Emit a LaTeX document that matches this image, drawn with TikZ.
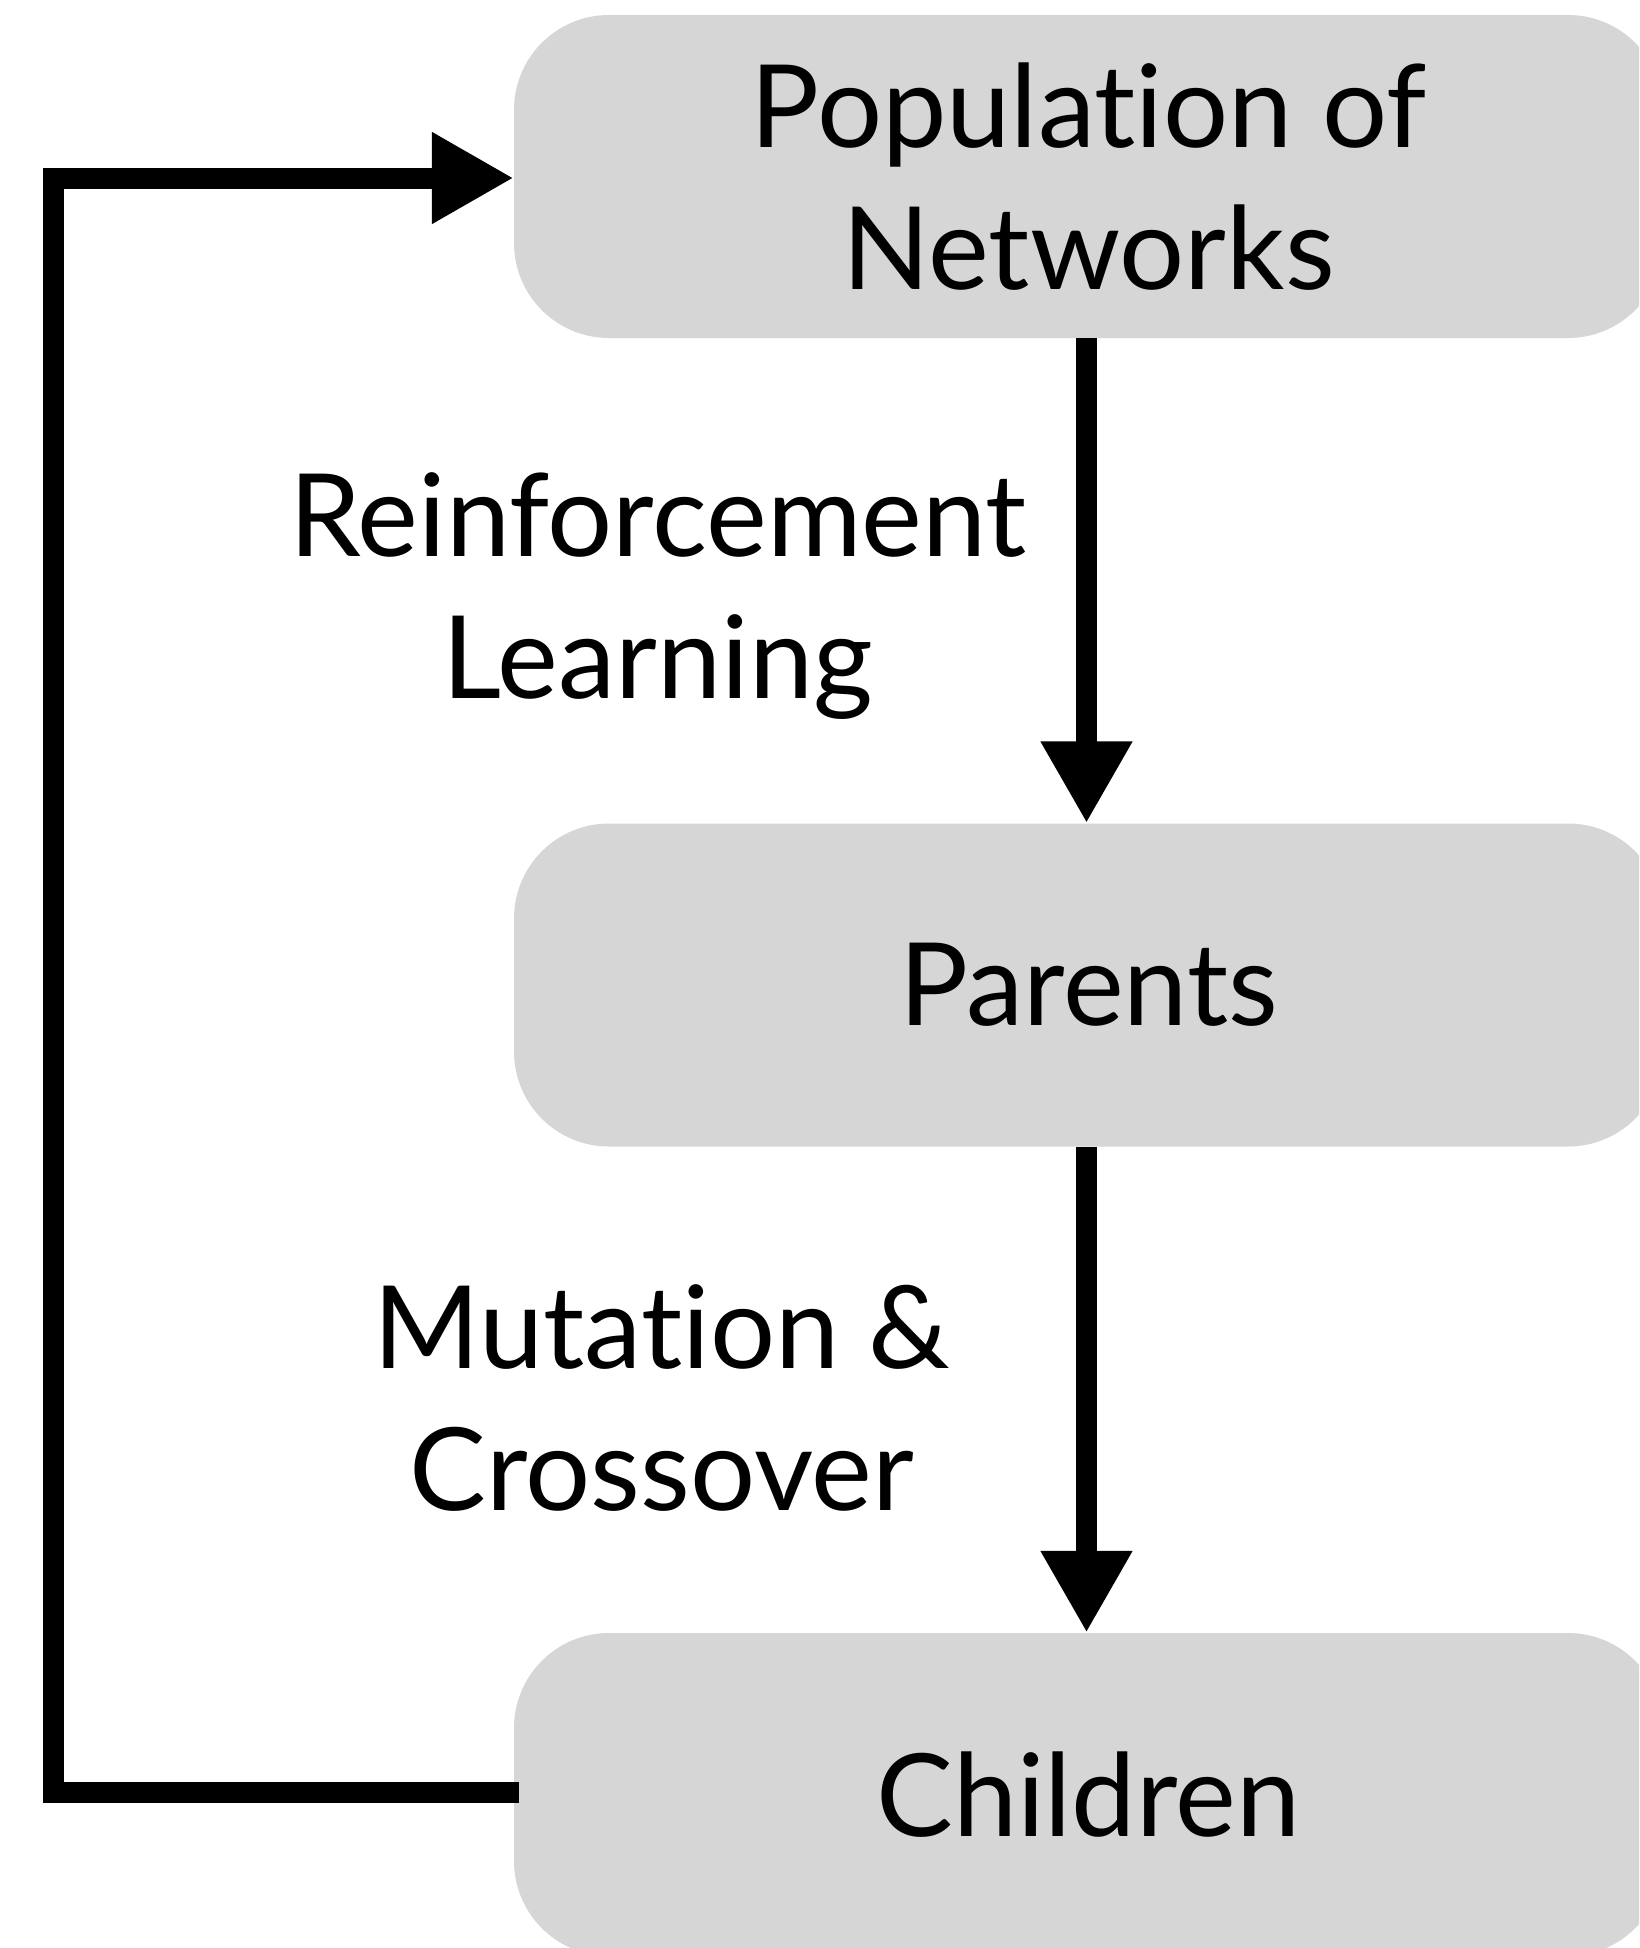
\documentclass[tikz,border=0pt]{standalone}
\usepackage{fontspec}
\setmainfont{Lato}[Ligatures=NoCommon]
\usetikzlibrary{arrows.meta}
\definecolor{boxgray}{RGB}{214,214,214}
\begin{document}
\begin{tikzpicture}[x=1pt,y=-1pt,
  box/.style={fill=boxgray, rounded corners=95pt, minimum width=1149pt, minimum height=323pt, inner sep=0pt, align=center, font=\fontsize{115}{142}\selectfont},
  conn/.style={line width=21pt, -{Triangle[length=82pt,width=86pt]}},
  lbl/.style={font=\fontsize{115}{142}\selectfont, align=center, anchor=base, inner sep=0pt}]
\clip (0,0) rectangle (1639,1948);
\fill[white] (0,0) rectangle (1639,1948);
\node[box] (pop) at (1088.5,176.5) {Population of\\Networks};
\node[box] (par) at (1088.5,985) {Parents};
\node[box] (chi) at (1088.5,1794.5) {Children};
\node[lbl] (rl) at (658,698) {Reinforcement\\Learning};
\node[lbl] (mc) at (662,1510) {Mutation \&\\Crossover};
\draw[conn] ([xshift=-2pt]pop.south) -- ([xshift=-2pt]par.north);
\draw[conn] ([xshift=-2pt]par.south) -- ([xshift=-2pt]chi.north);
\coordinate (lb) at (53,1792);
\coordinate (lt) at (53,178);
\draw[conn] ([xshift=5pt]chi.west |- lb) -- (lb) -- (lt) -- (pop.west |- lt);
\end{tikzpicture}
\end{document}
